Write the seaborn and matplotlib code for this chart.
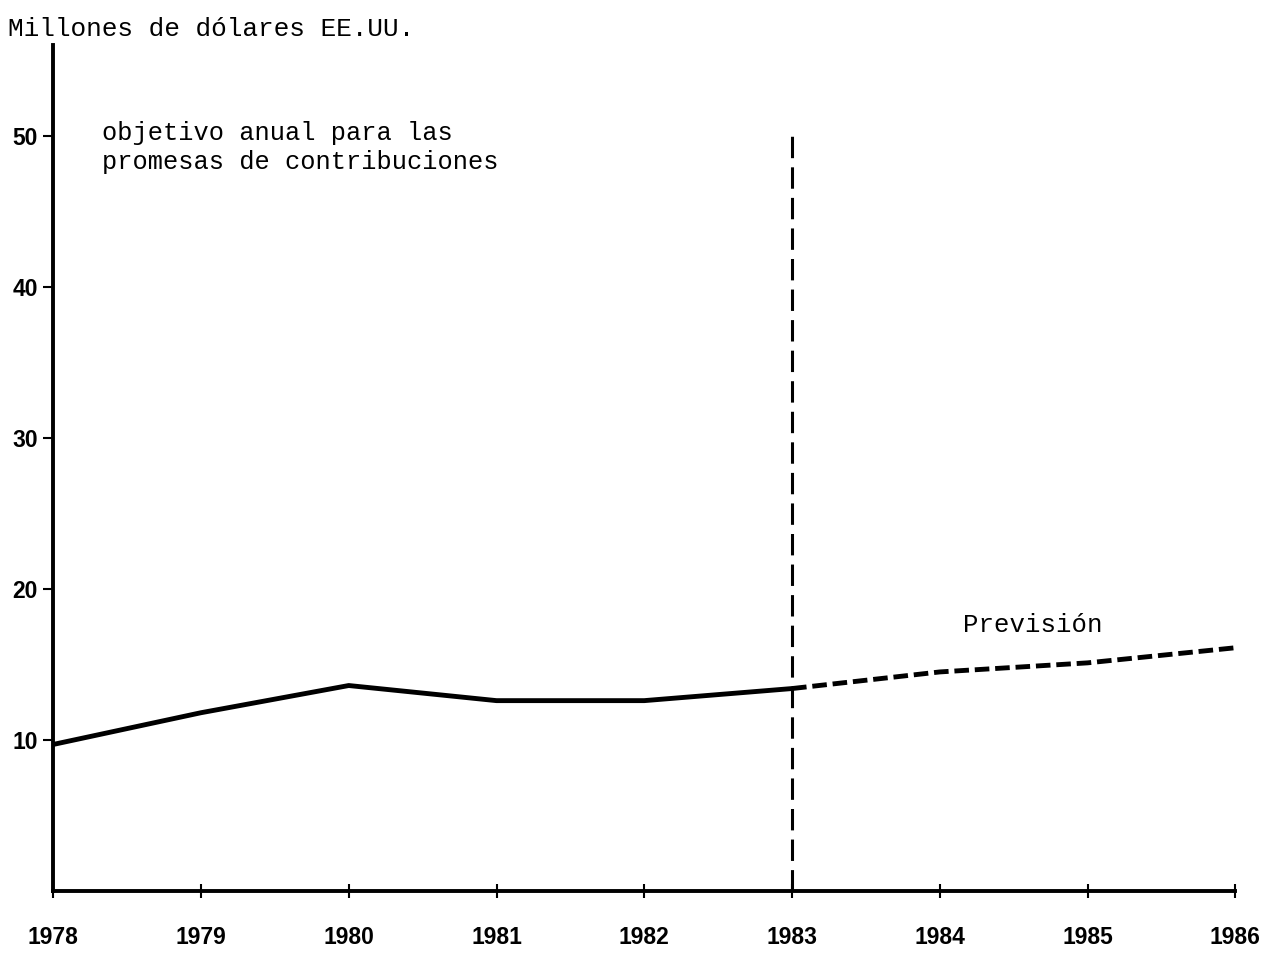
import matplotlib
matplotlib.use("Agg")
import matplotlib.pyplot as plt
import seaborn as sns
import pandas as pd

years = [1978, 1979, 1980, 1981, 1982, 1983]
pledges = [9.7, 11.8, 13.6, 12.6, 12.6, 13.4]
forecast_years = [1983, 1984, 1985, 1986]
forecast = [13.4, 14.5, 15.1, 16.1]
year_ticks = [1978, 1979, 1980, 1981, 1982, 1983, 1984, 1985, 1986]
value_ticks = [10, 20, 30, 40, 50]

df = pd.DataFrame({"Año": years, "Millones": pledges})
df_prev = pd.DataFrame({"Año": forecast_years, "Millones": forecast})

sns.set_style("ticks")
mono = "Liberation Mono"

fig = plt.figure(figsize=(12.67, 9.55), dpi=100)
ax = fig.add_axes([0.042, 0.067, 0.933, 0.886])

sns.lineplot(x="Año", y="Millones", data=df, color="black", linewidth=3.5, ax=ax)
sns.lineplot(x="Año", y="Millones", data=df_prev, color="black", linewidth=3.5,
             ax=ax, linestyle=(0, (3, 1.2)))
ax.plot([1983, 1983], [0, 50], color="black", linewidth=2.2, linestyle=(0, (7, 3)))

ax.set_xlim(1978, 1986)
ax.set_ylim(0, 56)
ax.set_xticks(year_ticks)
ax.set_yticks(value_ticks)
ax.set_xticklabels([str(y) for y in year_ticks], fontfamily="Liberation Sans",
                   fontweight="bold", fontsize=16.5)
ax.set_yticklabels([str(v) for v in value_ticks], fontfamily="Liberation Sans",
                   fontweight="bold", fontsize=16.5)
ax.tick_params(axis="x", direction="inout", length=10, width=1.5, pad=20,
               colors="black")
ax.tick_params(axis="y", direction="out", length=7, width=1.5, pad=4,
               colors="black")
ax.set_xlabel("")
ax.set_ylabel("")
sns.despine(ax=ax)
ax.spines["left"].set_linewidth(2.8)
ax.spines["bottom"].set_linewidth(2.8)
ax.spines["left"].set_color("black")
ax.spines["bottom"].set_color("black")

fig.text(0.006, 0.97, "Millones de dólares EE.UU.", fontfamily=mono,
         fontsize=18.8, va="center", ha="left", color="black")
ax.text(1978.33, 49.2, "objetivo anual para las\npromesas de contribuciones",
        fontfamily=mono, fontsize=18.3, va="center", ha="left",
        linespacing=1.25, color="black")
ax.text(1984.16, 17.6, "Previsión", fontfamily=mono, fontsize=18.5,
        va="center", ha="left", color="black")

fig.savefig("out.png", dpi=100)
